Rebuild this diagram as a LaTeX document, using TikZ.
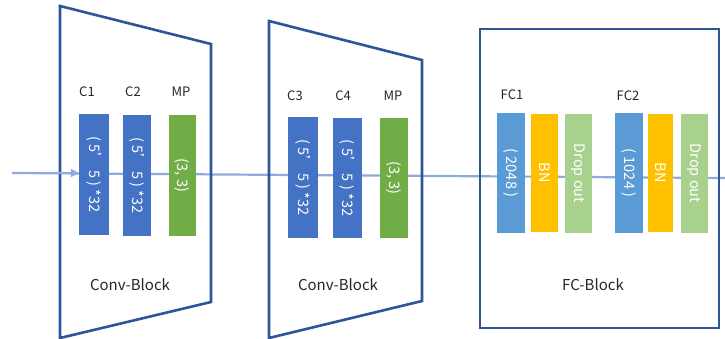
\documentclass[tikz,border=0pt]{standalone}
\usepackage{fontspec}
\setmainfont{Noto Sans CJK SC}
\usetikzlibrary{arrows.meta}
\definecolor{frameblue}{HTML}{2F5597}
\definecolor{convblue}{HTML}{4472C4}
\definecolor{mpgreen}{HTML}{70AD47}
\definecolor{fcblue}{HTML}{5B9BD5}
\definecolor{bnyellow}{HTML}{FFC000}
\definecolor{dropgreen}{HTML}{A9D18E}
\definecolor{flowblue}{HTML}{8FAADC}
\tikzset{
  layer/.style={rectangle, inner sep=0pt, draw=none, text=white, font=\fontsize{14.5}{16}\selectfont},
  lbl/.style={font=\fontsize{13}{15}\selectfont, text=black!85, inner sep=0pt},
  blocklbl/.style={font=\fontsize{15}{17}\selectfont, text=black!85, inner sep=0pt},
  frame/.style={draw=frameblue, line width=2.6pt, line join=miter},
  flow/.style={draw=flowblue, line width=2.2pt}
}
\begin{document}
\begin{tikzpicture}[x=1pt,y=-1pt]
\useasboundingbox (0,0) rectangle (725,339);
% flow line behind
\coordinate (in) at (12,173);
\coordinate (out) at (725,178);
\draw[flow] (in) -- (out);
% trapezoids and FC frame
\draw[frame] (60,6) -- (211,44) -- (211,302) -- (60,338) -- cycle;
\draw[frame] (269,21) -- (422,60) -- (422,301) -- (269,338) -- cycle;
\node[frame, rectangle, minimum width=239pt, minimum height=299pt, inner sep=0pt] (fcb) at (599.5,178.5) {};
% conv block 1
\node[layer, fill=convblue, minimum width=30pt, minimum height=121pt] (c1) at (94,174.5) {\rotatebox{-90}{( 5’ 5 ) *32}};
\node[layer, fill=convblue, minimum width=28pt, minimum height=121pt] (c2) at (137,175.5) {\rotatebox{-90}{( 5’ 5 ) *32}};
\node[layer, fill=mpgreen, minimum width=27pt, minimum height=121pt] (mp1) at (182.5,175.5) {\rotatebox{-90}{(3, 3)}};
\node[lbl] (lc1) at (87,92) {C1};
\node[lbl] (lc2) at (133,92) {C2};
\node[lbl] (lmp1) at (181,92) {MP};
\node[blocklbl] (cb1) at (130,285) {Conv-Block};
% conv block 2
\node[layer, fill=convblue, minimum width=30pt, minimum height=121pt] (c3) at (303,177.5) {\rotatebox{-90}{( 5’ 5 ) *32}};
\node[layer, fill=convblue, minimum width=29pt, minimum height=120pt] (c4) at (347.5,178) {\rotatebox{-90}{( 5’ 5 ) *32}};
\node[layer, fill=mpgreen, minimum width=28pt, minimum height=120pt] (mp2) at (394,178) {\rotatebox{-90}{(3, 3)}};
\node[lbl] (lc3) at (295,96) {C3};
\node[lbl] (lc4) at (343,96) {C4};
\node[lbl] (lmp2) at (393,96) {MP};
\node[blocklbl] (cb2) at (338,285) {Conv-Block};
% FC block
\node[layer, fill=fcblue, minimum width=28pt, minimum height=120pt] (fc1) at (511,173) {\rotatebox{-90}{( 2048 )}};
\node[layer, fill=bnyellow, minimum width=27pt, minimum height=118pt] (bn1) at (544.5,173) {\rotatebox{-90}{BN}};
\node[layer, fill=dropgreen, minimum width=27pt, minimum height=119pt] (do1) at (578.5,173.5) {\rotatebox{-90}{Drop out}};
\node[layer, fill=fcblue, minimum width=28pt, minimum height=120pt] (fc2) at (629,173) {\rotatebox{-90}{( 1024 )}};
\node[layer, fill=bnyellow, minimum width=25pt, minimum height=118pt] (bn2) at (660.5,173) {\rotatebox{-90}{BN}};
\node[layer, fill=dropgreen, minimum width=27pt, minimum height=119pt] (do2) at (694.5,173.5) {\rotatebox{-90}{Drop out}};
\node[lbl] (lfc1) at (512,95) {FC1};
\node[lbl] (lfc2) at (628,96) {FC2};
\node[blocklbl] (fcl) at (593,285) {FC-Block};
% arrow into first layer
\draw[flow, -{Triangle[length=8pt,width=8pt]}] (in) -- (c1.west |- in);
\end{tikzpicture}
\end{document}
